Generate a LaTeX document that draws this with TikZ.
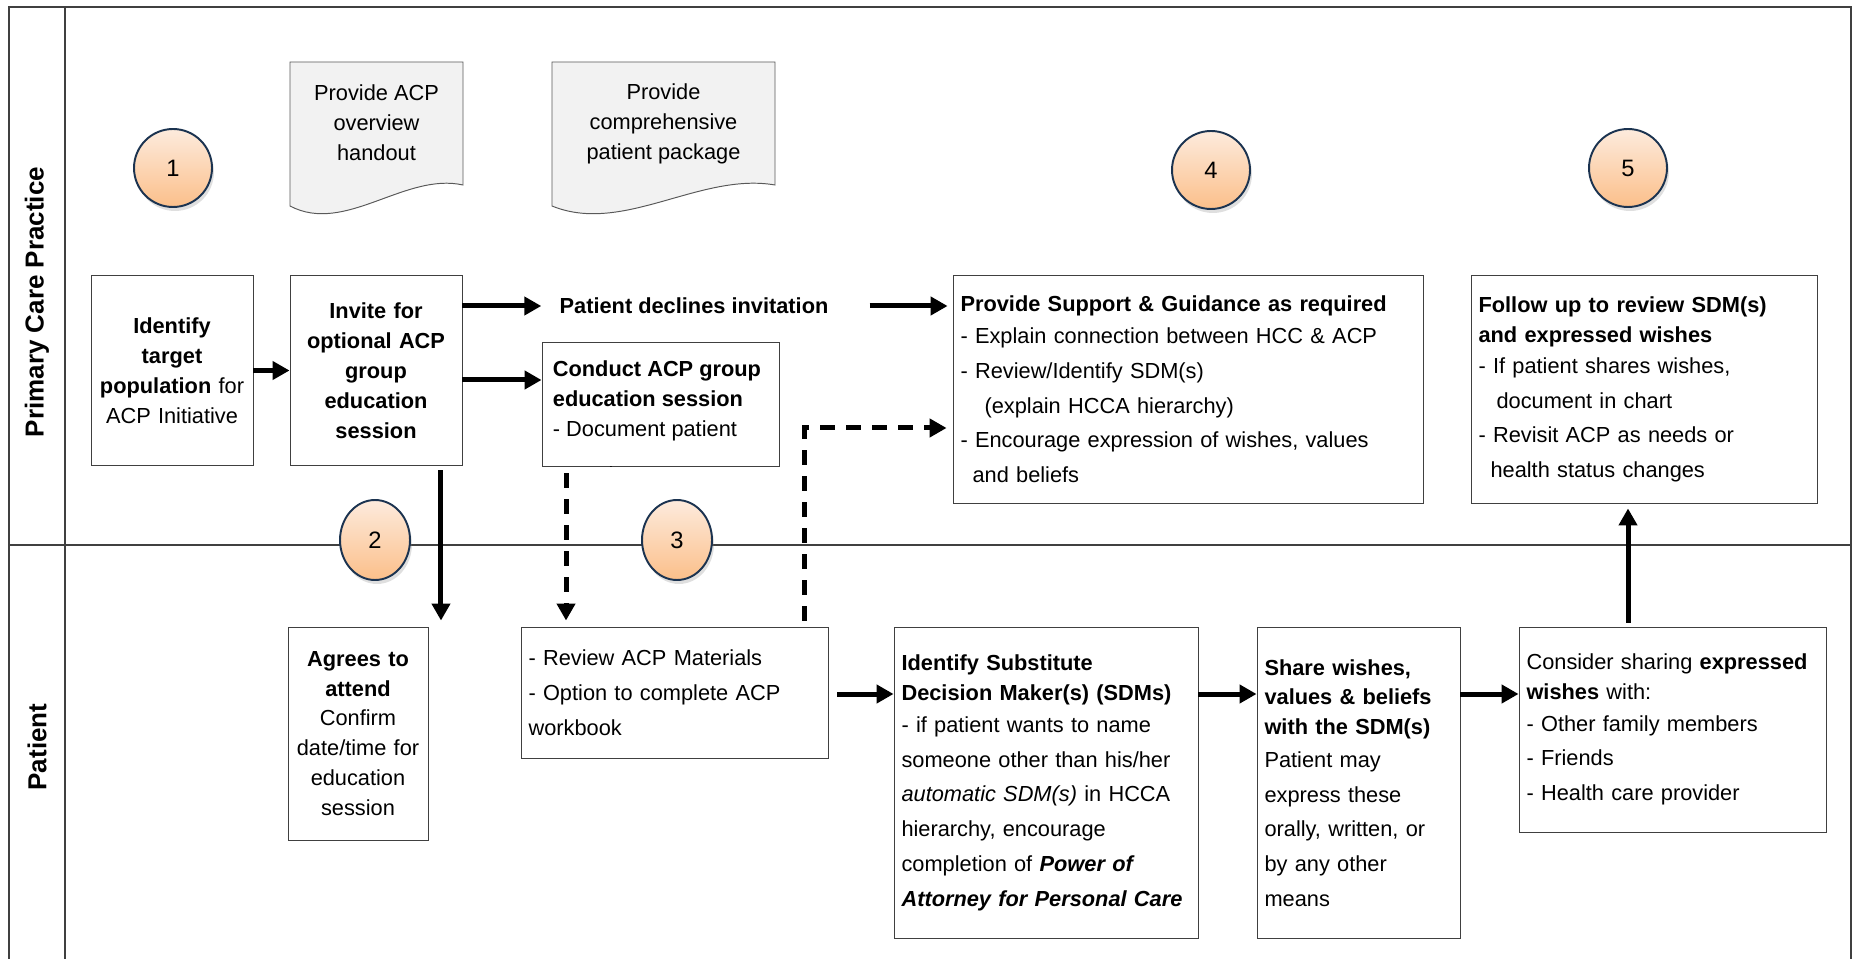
\documentclass[tikz,border=0pt]{standalone}
\usepackage{fontspec}
\setmainfont{Liberation Sans}
\usepackage{xcolor}
\usetikzlibrary{arrows.meta,shapes.geometric,shadows,positioning,calc}

\definecolor{stepedge}{HTML}{1B3350}
\definecolor{steptop}{HTML}{FDEBDD}
\definecolor{stepbot}{HTML}{FBBF8A}
\definecolor{docfill}{HTML}{F2F2F2}
\definecolor{laneline}{HTML}{404040}

\begin{document}
\begin{tikzpicture}[x=0.02cm, y=-0.02cm,
    font=\fontsize{12.4}{17}\selectfont,
    box/.style={draw=black!75, line width=0.55pt, fill=white, inner xsep=0.15cm, inner ysep=0pt, align=left},
    cbox/.style={box, inner xsep=0.05cm, align=center},
    stepnum/.style={circle, draw=stepedge, line width=1.1pt, top color=steptop, bottom color=stepbot,
        minimum size=1.56cm, inner sep=0pt, font=\fontsize{13.5}{16}\selectfont,
        drop shadow={shadow xshift=0.04cm, shadow yshift=-0.08cm, opacity=0.25}},
    lane/.style={rotate=90, font=\fontsize{14.8}{18}\selectfont\bfseries},
    flow/.style={line width=0.1cm, -{Triangle[length=0.34cm, width=0.36cm]}},
    optflow/.style={flow, dash pattern=on 0.3cm off 0.22cm},
    frame/.style={draw=laneline, line width=0.85pt},
    docshape/.style={draw=black!65, line width=0.55pt, fill=docfill}
]
    \useasboundingbox (0,0) rectangle (1856,959);

    % Lanes
    \draw[frame] (9,959) -- (9,7) -- (1851,7) -- (1851,959);
    \draw[frame] (65,7) -- (65,959);
    \draw[frame] (9,545) -- (1851,545);
    \node[lane] (pcp) at (37,302) {Primary Care Practice};
    \node[lane] (pat) at (37,747) {Patient};

    % Handouts
    \filldraw[docshape] (290,206) -- (290,62) -- (463,62) -- (463,185) .. controls (405,172) and (345,235) .. cycle;
    \node[align=center] (doc1) at (376.5,123) {Provide ACP\\overview\\handout};
    \filldraw[docshape] (552,206) -- (552,62) -- (775,62) -- (775,185) .. controls (700,172) and (623,235) .. cycle;
    \node[align=center] (doc2) at (663.5,124) {Provide\\comprehensive\\patient package};

    % Step numbers
    \node[stepnum] (s1) at (173,168) {1};
    \node[stepnum, ellipse, minimum width=1.4cm, minimum height=1.6cm] (s2) at (375,540) {2};
    \node[stepnum, ellipse, minimum width=1.4cm, minimum height=1.6cm] (s3) at (677,540) {3};
    \node[stepnum] (s4) at (1211,170) {4};
    \node[stepnum] (s5) at (1628,168) {5};

    % Primary care practice
    \node[cbox, text width=3.14cm, minimum width=3.24cm, minimum height=3.82cm] (ident) at (172,370.5)
        {\textbf{Identify}\\\textbf{target}\\\textbf{population} for\\ACP Initiative};
    \node[cbox, text width=3.34cm, minimum width=3.44cm, minimum height=3.82cm,
        font=\fontsize{12.4}{17}\selectfont\bfseries] (invite) at (376,370.5)
        {Invite for\\optional ACP\\group\\education\\session};
    \node[font=\fontsize{12.4}{17}\selectfont\bfseries, inner sep=0pt] (declines) at (694,306) {Patient declines invitation};
    \node[box, minimum width=4.74cm, minimum height=2.48cm] (conduct) at (660.5,404) {};
    \begin{scope}
        \clip (conduct.south west) rectangle (conduct.north east);
        \node[align=left, inner sep=0pt, anchor=north west] (conducttxt) at ([xshift=0.22cm, yshift=-0.38cm]conduct.north west)
            {\textbf{Conduct ACP group}\\\textbf{education session}\\- Document patient\\[9pt]attendance};
    \end{scope}
    \node[box, text width=9.12cm, minimum width=9.42cm, minimum height=4.58cm] (support) at (1188.5,389.5)
        {\textbf{Provide Support \& Guidance as required}\\[1pt]- Explain connection between HCC \& ACP\\[2.8pt]- Review/Identify SDM(s)\\[2.8pt]\hspace*{0.48cm}(explain HCCA hierarchy)\\[2.8pt]- Encourage expression of wishes, values\\[2.8pt]\hspace*{0.24cm}and beliefs};
    \node[box, text width=6.62cm, minimum width=6.92cm, minimum height=4.58cm] (follow) at (1644,389.5)
        {\textbf{Follow up to review SDM(s)}\\\textbf{and expressed wishes}\\[0.5pt]- If patient shares wishes,\\[2.8pt]\hspace*{0.36cm}document in chart\\[2.8pt]- Revisit ACP as needs or\\[2.8pt]\hspace*{0.24cm}health status changes};

    % Patient
    \node[cbox, text width=2.7cm, minimum width=2.8cm, minimum height=4.26cm] (agrees) at (358,733.5)
        {\textbf{Agrees to}\\\textbf{attend}\\Confirm\\date/time for\\education\\session};
    \node[box, text width=5.86cm, minimum width=6.16cm, minimum height=2.62cm] (review) at (675,692.5)
        {- Review ACP Materials\\[2.8pt]- Option to complete ACP\\[2.8pt]workbook};
    \node[box, text width=5.78cm, minimum width=6.08cm, minimum height=6.24cm] (sdm) at (1046,783)
        {\textbf{Identify Substitute}\\\textbf{Decision Maker(s) (SDMs)}\\[1pt]- if patient wants to name\\[2.8pt]someone other than his/her\\[2.8pt]\textit{automatic SDM(s)} in HCCA\\[2.8pt]hierarchy, encourage\\[2.8pt]completion of \textbf{\textit{Power of}}\\[2.8pt]\textbf{\textit{Attorney for Personal Care}}};
    \node[box, text width=3.76cm, minimum width=4.06cm, minimum height=6.24cm] (share) at (1358.5,783)
        {\textbf{Share wishes,}\\\textbf{values \& beliefs}\\\textbf{with the SDM(s)}\\[1.5pt]Patient may\\[2.8pt]express these\\[2.8pt]orally, written, or\\[2.8pt]by any other\\[2.8pt]means};
    \node[box, text width=5.84cm, minimum width=6.14cm, minimum height=4.1cm] (consider) at (1672.5,729.5)
        {Consider sharing \textbf{expressed}\\\textbf{wishes} with:\\[1pt]- Other family members\\[2.8pt]- Friends\\[2.8pt]- Health care provider};

    % Arrows
    \coordinate (rowP) at (0,694);
    \draw[flow] (ident) -- (invite);
    \draw[flow, shorten >=0.36cm] (invite.east |- declines.west) -- (declines.west);
    \draw[flow, shorten <=0.82cm, shorten >=0.1cm] (declines.east) -- (declines.east -| support.west);
    \draw[flow] ([yshift=-0.19cm]invite.east) -- ([yshift=-0.19cm]invite.east -| conduct.west);
    \draw[flow, shorten <=0.08cm, shorten >=0.12cm] ([xshift=1.3cm]invite.south) -- ([xshift=1.3cm]invite.south |- agrees.north);
    \draw[optflow, shorten <=0.14cm, shorten >=0.12cm] ([xshift=-1.89cm]conduct.south) -- ([xshift=-1.89cm]conduct.south |- review.north);
    \draw[optflow, shorten <=0.12cm, shorten >=0.12cm] ([xshift=2.6cm]review.north) |- ([yshift=-0.77cm]support.west);
    \draw[flow, shorten <=0.16cm] (review.east |- rowP) -- (sdm.west |- rowP);
    \draw[flow] (sdm.east |- rowP) -- (share.west |- rowP);
    \draw[flow] (share.east |- rowP) -- (consider.west |- rowP);
    \draw[flow, shorten <=0.08cm, shorten >=0.08cm] ([xshift=-0.89cm]consider.north) -- ([xshift=-0.89cm]consider.north |- follow.south);
\end{tikzpicture}
\end{document}
